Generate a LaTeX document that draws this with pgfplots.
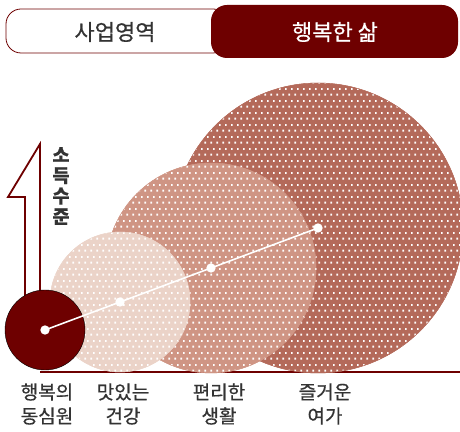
\documentclass[border=0pt]{standalone}
\usepackage{pgfplots}
\pgfplotsset{compat=1.18}
\usepackage{fontspec}
\setmainfont{Noto Sans CJK KR}[RawFeature={embolden=0.6}]
\usetikzlibrary{patterns.meta}

\definecolor{darkred}{HTML}{6E0000}
\definecolor{cA}{HTML}{B46A5A}
\definecolor{cB}{HTML}{CF9584}
\definecolor{cC}{HTML}{EBD3C8}
\definecolor{txt}{HTML}{333333}

\tikzdeclarepattern{
  name=wdots,
  type=uncolored,
  bounding box={(0pt,0pt) and (6pt,12pt)},
  tile size={(6pt,12pt)},
  code={
    \pgfpathrectangle{\pgfpoint{0.5pt}{0.5pt}}{\pgfpoint{2pt}{2pt}}
    \pgfpathrectangle{\pgfpoint{3.5pt}{6.5pt}}{\pgfpoint{2pt}{2pt}}
    \pgfusepath{fill}
  }
}

% bubble: colour, radius
\pgfplotsset{
  bubble/.style n args={2}{only marks, scatter, mark=*, mark size=0pt,
    mark options={draw=none, fill=none},
    scatter/@pre marker code/.code={
      \fill[#1, postaction={pattern=wdots, pattern color=white}] (0,0) circle[radius=#2];
    },
    scatter/@post marker code/.code={}},
}

\begin{document}
\begin{tikzpicture}
\begin{axis}[
  width=460pt, height=431pt, scale only axis,
  xmin=0, xmax=460, ymin=0, ymax=431,
  hide axis, clip=false, clip marker paths=true,
]
\coordinate (SW) at (axis cs:0,0);
\coordinate (NE) at (axis cs:460,431);

% tabs
\draw[darkred, line width=0.8pt, fill=white, rounded corners=15pt]
  (axis cs:6,378) rectangle (axis cs:228,422);
\fill[darkred, rounded corners=16pt]
  (axis cs:211,373) rectangle (axis cs:458,426);
\node[txt, font=\fontsize{22}{26}\selectfont] at (axis cs:115,399) {사업영역};
\node[white, font=\fontsize{22}{26}\selectfont] at (axis cs:335,399) {행복한 삶};

% income arrow
\addplot[darkred, line width=1.8pt, line join=miter]
  coordinates {(25,131) (25,234) (8,234) (40,287) (40,131)};
\node[txt, align=center, font=\fontsize{18.5}{20.5}\selectfont\bfseries]
  at (axis cs:61,245) {소\\득\\수\\준};

% baseline
\addplot[darkred, line width=1.6pt] coordinates {(40,59) (460,59)};

% bubbles
\addplot[bubble={cA}{145pt}] coordinates {(318,203)};
\addplot[bubble={cB}{105pt}] coordinates {(211,163)};
\addplot[bubble={cC}{70pt}] coordinates {(120,129)};
\addplot[only marks, mark=*, mark size=40pt, mark options={draw=none, fill=darkred}]
  coordinates {(45,101)};

% income line
\addplot[white, line width=1.6pt, mark=*, mark size=3.8pt,
  mark options={fill=white, draw=none}]
  coordinates {(45,101) (120,129) (211,163) (318,203)};

% labels
\node[txt, align=center, font=\fontsize{19}{24}\selectfont] at (axis cs:47,27) {행복의\\동심원};
\node[txt, align=center, font=\fontsize{19}{24}\selectfont] at (axis cs:123,27) {맛있는\\건강};
\node[txt, align=center, font=\fontsize{19}{24}\selectfont] at (axis cs:219,27) {편리한\\생활};
\node[txt, align=center, font=\fontsize{19}{24}\selectfont] at (axis cs:325,27) {즐거운\\여가};
\end{axis}
\pgfresetboundingbox
\path (SW) rectangle (NE);
\end{tikzpicture}
\end{document}
